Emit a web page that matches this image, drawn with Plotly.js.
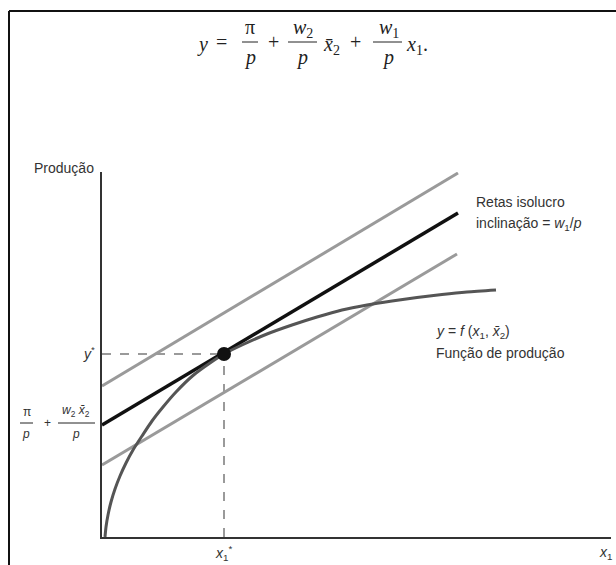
<!DOCTYPE html>
<html>
<head>
<meta charset="utf-8">
<script src="https://cdn.plot.ly/plotly-3.0.1.min.js"></script>
<style>
html,body{margin:0;padding:0;background:#fff;}
#chart{width:616px;height:565px;}
</style>
</head>
<body>
<div id="chart"></div>
<script>
// ---- data (schematic units) ----
const curveX = [3, 4, 6, 9, 13, 18, 24, 31, 40, 50, 61, 74, 91, 108, 122, 140, 165, 190, 215, 240, 265, 290, 315, 340, 365, 394];
const curveY = [0, 10, 22, 35, 48, 61, 74, 87, 101, 116, 130, 145, 161.5, 174, 183, 192, 203, 212, 220, 227, 232, 236, 239.5, 242.5, 245, 247];
const isoStartX = [0, 0, 0];
const isoStartY = [151, 112, 72];
const isoEndX = [356, 356, 355];
const isoEndY = [364, 324, 283];
const isoColors = ['#9a9a9a', '#111111', '#9a9a9a'];
const optX = [122];
const optY = [183];

// ---- helpers to position texts (pixel -> paper) ----
const L = 102, R = 5, T = 172, B = 28, W = 616, H = 565;
const PW = W - L - R, PH = H - T - B;
function ax(px){ return (px - L) / PW; }
function ay(py){ return (H - B - py) / PH; }

const traces = [];
// dashed guides
traces.push({x:[0, optX[0]], y:[optY[0], optY[0]], mode:'lines', line:{color:'#7a7a7a', width:1.5, dash:'dash'}, hoverinfo:'skip'});
traces.push({x:[optX[0], optX[0]], y:[0, optY[0]], mode:'lines', line:{color:'#7a7a7a', width:1.5, dash:'dash'}, hoverinfo:'skip'});
// isoprofit lines
for (let i = 0; i < 3; i++) {
  traces.push({x:[isoStartX[i], isoEndX[i]], y:[isoStartY[i], isoEndY[i]], mode:'lines',
    line:{color:isoColors[i], width: i === 1 ? 3.5 : 3}, hoverinfo:'skip'});
}
// production function
traces.push({x:curveX, y:curveY, mode:'lines', line:{color:'#555555', width:3, shape:'spline', smoothing:0.7}, hoverinfo:'skip'});
// optimum point
traces.push({x:optX, y:optY, mode:'markers', marker:{color:'#111', size:14}, hoverinfo:'skip'});

const serif = {family:'Liberation Serif, DejaVu Serif, serif', size:20, color:'#222'};
const sans = {family:'Liberation Sans, Arial, sans-serif', size:14, color:'#333'};
const sansS = {family:'Liberation Sans, Arial, sans-serif', size:12, color:'#333'};

function ann(text, px, py, font, xanchor){
  return {text:text, x:ax(px), y:ay(py), xref:'paper', yref:'paper', showarrow:false,
    xanchor:xanchor || 'center', yanchor:'middle', font:font};
}
function bar(x0, x1, py, w){
  return {type:'line', xref:'paper', yref:'paper', x0:ax(x0), x1:ax(x1), y0:ay(py), y1:ay(py),
    line:{color:'#222', width:w || 1}};
}

const annotations = [
  // equation
  ann('<i>y</i>', 202, 44, serif),
  ann('=', 221, 42, serif),
  ann('π', 250, 27, serif),
  ann('<i>p</i>', 250, 58, serif),
  ann('+', 273, 42, serif),
  ann('<i>w</i><sub>2</sub>', 303, 28, serif),
  ann('<i>p</i>', 302, 58, serif),
  ann('<i>x̄</i><sub>2</sub>', 331, 45, serif),
  ann('+', 355, 42, serif),
  ann('<i>w</i><sub>1</sub>', 389, 28, serif),
  ann('<i>p</i>', 388, 58, serif),
  ann('<i>x</i><sub>1</sub>.', 417, 45, serif),
  // left fraction label
  ann('π', 27, 412, sansS),
  ann('<i>p</i>', 26, 434, sansS),
  ann('+', 47, 423, sansS),
  ann('<i>w</i><sub>2</sub> <i>x̄</i><sub>2</sub>', 76, 411, sansS),
  ann('<i>p</i>', 76, 434, sansS),
  ann('<i>y</i><sup>*</sup>', 97, 353, sans, 'right'),
  ann('Produção', 96, 168, sans, 'right'),
  ann('Retas isolucro', 474, 202, sans, 'left'),
  ann('inclinação = <i>w</i><sub>1</sub>/<i>p</i>', 474, 224, sans, 'left'),
  ann('<i>y</i> = <i>f</i> (<i>x</i><sub>1</sub>, <i>x̄</i><sub>2</sub>)', 434, 332, sans, 'left'),
  ann('Função de produção', 434, 353, sans, 'left'),
  ann('<i>x</i><sub>1</sub><sup>*</sup>', 223, 553, sans),
  ann('<i>x</i><sub>1</sub>', 605, 553, sans)
];

const shapes = [
  // frame
  {type:'line', xref:'paper', yref:'paper', x0:ax(9), x1:ax(616), y0:ay(11), y1:ay(11), line:{color:'#111', width:2}},
  {type:'line', xref:'paper', yref:'paper', x0:ax(9), x1:ax(9), y0:ay(11), y1:ay(566), line:{color:'#111', width:2}},
  // fraction bars
  bar(242, 258, 42), bar(288, 317, 42), bar(373, 402, 42),
  bar(20, 33, 423), bar(58, 95, 423)
];

const layout = {
  width: W, height: H,
  margin:{l:L, r:R, t:T, b:B, pad:0},
  paper_bgcolor:'#fff', plot_bgcolor:'#fff',
  showlegend:false,
  xaxis:{range:[0, PW], showgrid:false, zeroline:false, showticklabels:false, ticks:'',
    showline:true, linecolor:'#333', linewidth:2, fixedrange:true},
  yaxis:{range:[0, PH], showgrid:false, zeroline:false, showticklabels:false, ticks:'',
    showline:true, linecolor:'#333', linewidth:2, fixedrange:true},
  annotations: annotations,
  shapes: shapes
};

Plotly.newPlot('chart', traces, layout, {displayModeBar:false, staticPlot:true});
</script>
</body>
</html>
